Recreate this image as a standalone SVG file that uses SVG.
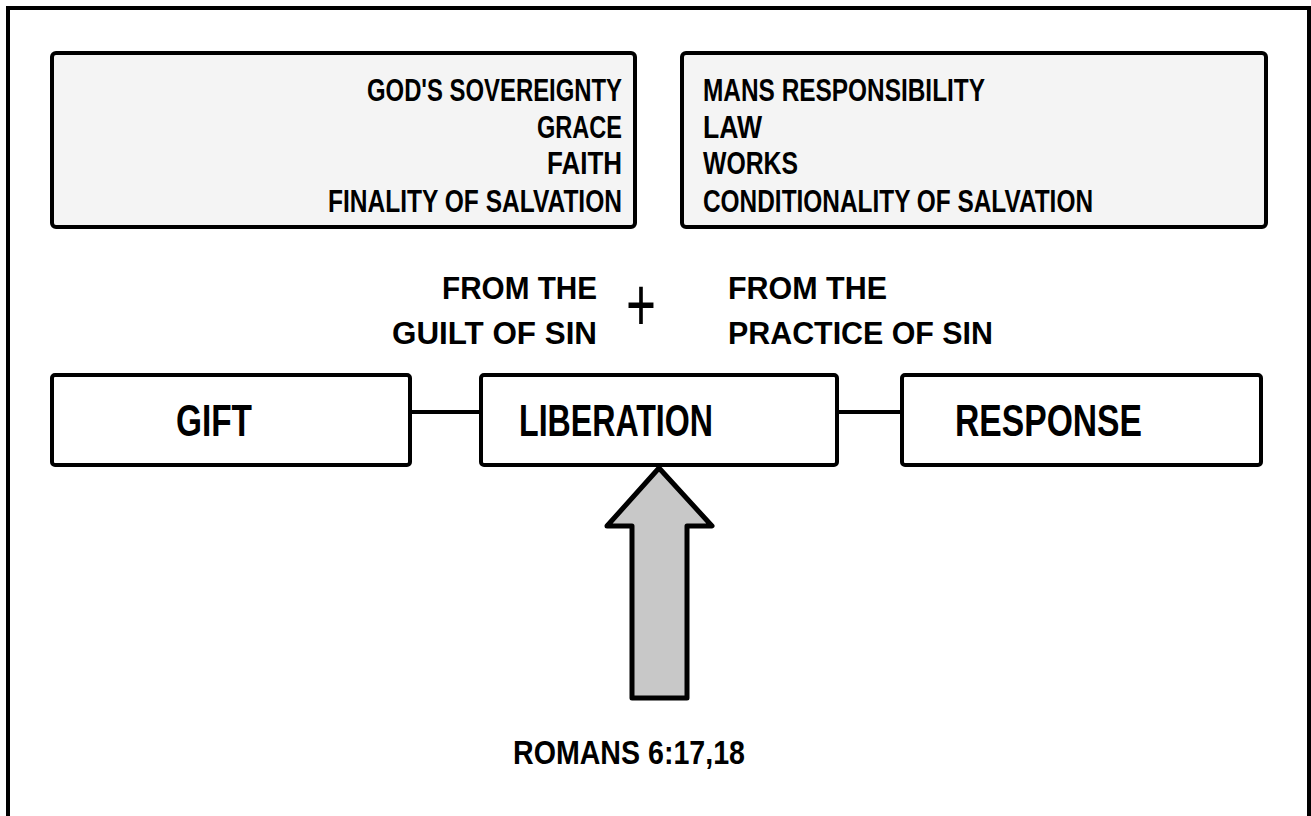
<svg xmlns="http://www.w3.org/2000/svg" width="1311" height="816" viewBox="0 0 1311 816">
<style>
.t{font-family:"Liberation Sans",Arial,sans-serif;font-weight:bold;fill:#000;}
.s{font-size:32px;}
.b{font-size:44px;}
.box{fill:#f4f4f4;stroke:#000;stroke-width:4;}
.node{fill:#fff;stroke:#000;stroke-width:4;}
.conn{stroke:#000;stroke-width:4;fill:none;}
</style>
<rect width="1311" height="816" fill="#fff"/>
<rect x="8" y="8" width="1301" height="830" fill="none" stroke="#000" stroke-width="4"/>
<g id="sovereignty-box">
<rect class="box" x="52" y="53" width="583" height="174" rx="4"/>
<g class="t s" text-anchor="end">
<text x="622" y="101" textLength="255" lengthAdjust="spacingAndGlyphs">GOD'S SOVEREIGNTY</text>
<text x="622" y="138" textLength="85" lengthAdjust="spacingAndGlyphs">GRACE</text>
<text x="622" y="174" textLength="75" lengthAdjust="spacingAndGlyphs">FAITH</text>
<text x="622" y="212" textLength="294" lengthAdjust="spacingAndGlyphs">FINALITY OF SALVATION</text>
</g>
</g>
<g id="responsibility-box">
<rect class="box" x="682" y="53" width="584" height="174" rx="4"/>
<g class="t s">
<text x="703" y="101" textLength="282" lengthAdjust="spacingAndGlyphs">MANS RESPONSIBILITY</text>
<text x="703" y="138" textLength="59" lengthAdjust="spacingAndGlyphs">LAW</text>
<text x="703" y="174" textLength="95" lengthAdjust="spacingAndGlyphs">WORKS</text>
<text x="703" y="212" textLength="390" lengthAdjust="spacingAndGlyphs">CONDITIONALITY OF SALVATION</text>
</g>
</g>
<g id="guilt-label" class="t s" text-anchor="end">
<text x="597" y="299" textLength="155" lengthAdjust="spacingAndGlyphs">FROM THE</text>
<text x="597" y="344" textLength="205" lengthAdjust="spacingAndGlyphs">GUILT OF SIN</text>
</g>
<g id="plus">
<text x="626" y="331" font-family="Liberation Sans, Arial, sans-serif" font-size="76" textLength="30" lengthAdjust="spacingAndGlyphs">+</text>
</g>
<g id="practice-label" class="t s">
<text x="728" y="299" textLength="159" lengthAdjust="spacingAndGlyphs">FROM THE</text>
<text x="728" y="344" textLength="265" lengthAdjust="spacingAndGlyphs">PRACTICE OF SIN</text>
</g>
<g id="connectors">
<line class="conn" x1="410" y1="412" x2="481" y2="412"/>
<line class="conn" x1="837" y1="412" x2="902" y2="412"/>
</g>
<g id="gift">
<rect class="node" x="52" y="375" width="358" height="90" rx="3"/>
<text class="t b" x="176" y="436" textLength="76" lengthAdjust="spacingAndGlyphs">GIFT</text>
</g>
<g id="liberation">
<rect class="node" x="481" y="375" width="356" height="90" rx="3"/>
<text class="t b" x="519" y="436" textLength="194" lengthAdjust="spacingAndGlyphs">LIBERATION</text>
</g>
<g id="response">
<rect class="node" x="902" y="375" width="359" height="90" rx="3"/>
<text class="t b" x="955" y="436" textLength="187" lengthAdjust="spacingAndGlyphs">RESPONSE</text>
</g>
<g id="arrow">
<path d="M659 468 L712 526 L687 526 L687 698 L632 698 L632 526 L607 526 Z" fill="#c8c8c8" stroke="#000" stroke-width="5" stroke-linejoin="round"/>
</g>
<g id="romans">
<text class="t" font-size="34" x="513" y="764" textLength="232" lengthAdjust="spacingAndGlyphs">ROMANS 6:17,18</text>
</g>
</svg>
